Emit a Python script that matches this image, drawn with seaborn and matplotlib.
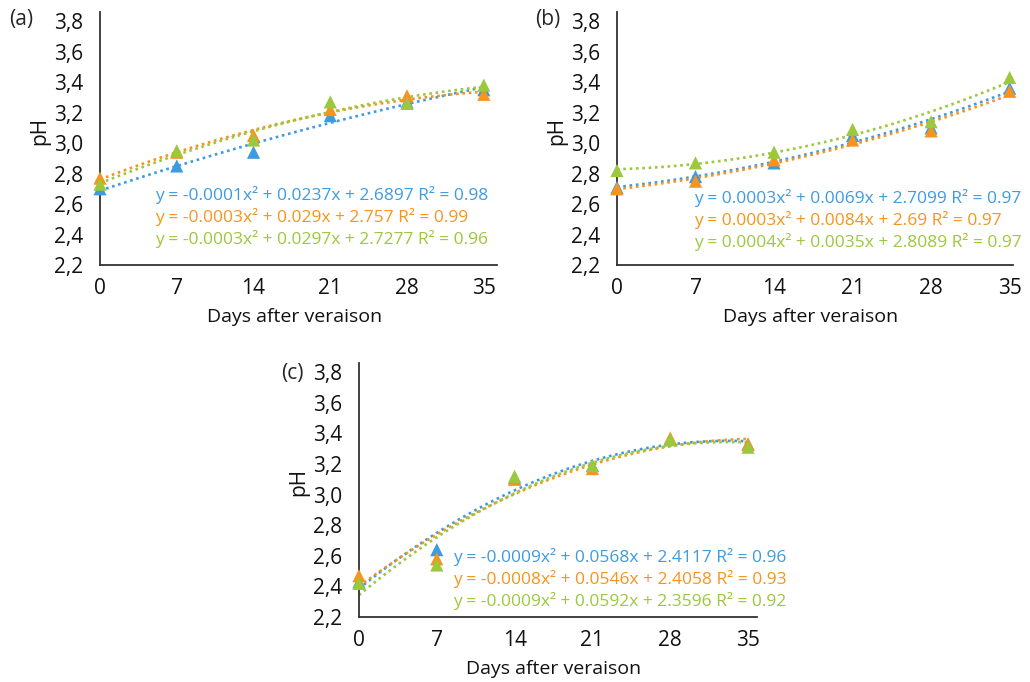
import numpy as np
import pandas as pd
import matplotlib
matplotlib.use("Agg")
import matplotlib.pyplot as plt
import seaborn as sns

# days after veraison
days = [0, 7, 14, 21, 28, 35]

# pH readings per panel, three series each (blue, orange, green)
a_blue = [2.70, 2.85, 2.94, 3.18, 3.27, 3.35]
a_orange = [2.77, 2.94, 3.05, 3.22, 3.31, 3.32]
a_green = [2.73, 2.95, 3.02, 3.27, 3.26, 3.38]

b_blue = [2.71, 2.78, 2.87, 3.05, 3.10, 3.36]
b_orange = [2.70, 2.75, 2.89, 3.02, 3.08, 3.34]
b_green = [2.82, 2.87, 2.94, 3.09, 3.14, 3.43]

c_blue = [2.43, 2.64, 3.11, 3.19, 3.36, 3.33]
c_orange = [2.47, 2.58, 3.10, 3.17, 3.37, 3.33]
c_green = [2.42, 2.54, 3.12, 3.19, 3.36, 3.31]

# trendline equations as printed on the chart
a_eqs = ["y = -0.0001x² + 0.0237x + 2.6897 R² = 0.98",
         "y = -0.0003x² + 0.029x + 2.757 R² = 0.99",
         "y = -0.0003x² + 0.0297x + 2.7277 R² = 0.96"]
b_eqs = ["y = 0.0003x² + 0.0069x + 2.7099 R² = 0.97",
         "y = 0.0003x² + 0.0084x + 2.69 R² = 0.97",
         "y = 0.0004x² + 0.0035x + 2.8089 R² = 0.97"]
c_eqs = ["y = -0.0009x² + 0.0568x + 2.4117 R² = 0.96",
         "y = -0.0008x² + 0.0546x + 2.4058 R² = 0.93",
         "y = -0.0009x² + 0.0592x + 2.3596 R² = 0.92"]

y_ticks = [2.2, 2.4, 2.6, 2.8, 3.0, 3.2, 3.4, 3.6, 3.8]
series_names = ["blue", "orange", "green"]
colors = ["#3d9be0", "#f7941d", "#9bc83c"]

sns.set_theme(style="white")
plt.rcParams["font.family"] = ["Open Sans", "DejaVu Sans"]


def make_df(blue, orange, green):
    rows = []
    for name, vals in zip(series_names, [blue, orange, green]):
        for d, v in zip(days, vals):
            rows.append({"day": d, "pH": v, "series": name})
    return pd.DataFrame(rows)


def draw_panel(ax, df, eqs, xmax, eq_x, eq_y):
    # quadratic trendlines first, markers on top
    for name, col in zip(series_names, colors):
        sub = df[df["series"] == name]
        sns.regplot(data=sub, x="day", y="pH", order=2, ci=None, scatter=False,
                    color=col, ax=ax,
                    line_kws=dict(linestyle=(0, (1, 1.4)), linewidth=1.9))
    sns.scatterplot(data=df, x="day", y="pH", hue="series", palette=colors,
                    marker="^", s=90, linewidth=0, ax=ax, legend=False,
                    clip_on=False, zorder=5)

    ax.set_xlim(0, xmax)
    ax.set_ylim(2.2, 3.86)
    ax.set_xticks(days)
    ax.set_xticklabels([str(d) for d in days])
    ax.set_yticks(y_ticks)
    ax.set_yticklabels([f"{v:.1f}".replace(".", ",") for v in y_ticks])
    ax.tick_params(axis="both", length=0, labelsize=15, colors="#111111")
    ax.tick_params(axis="x", pad=9)
    ax.tick_params(axis="y", pad=12)
    for side in ["top", "right"]:
        ax.spines[side].set_visible(False)
    for side in ["left", "bottom"]:
        ax.spines[side].set_color("#333333")
        ax.spines[side].set_linewidth(1.3)

    ax.set_xlabel("Days after veraison", fontsize=14, color="#111111")
    ax.set_ylabel("pH", fontsize=15, color="#111111")
    ax.xaxis.set_label_coords(0.49, -0.17)
    ax.yaxis.set_label_coords(-0.125, 0.53)

    for i, (txt, col) in enumerate(zip(eqs, colors)):
        ax.text(eq_x, eq_y - i * 0.087, txt, color=col, fontsize=12.5,
                transform=ax.transAxes, va="center", ha="left")


fig = plt.figure(figsize=(10.3, 6.82), dpi=100)
ax_a = fig.add_axes([0.0971, 0.6114, 0.3854, 0.371])
ax_b = fig.add_axes([0.599, 0.6114, 0.3845, 0.371])
ax_c = fig.add_axes([0.3485, 0.0953, 0.3864, 0.3724])

draw_panel(ax_a, make_df(a_blue, a_orange, a_green), a_eqs, 36.2, 0.139, 0.277)
draw_panel(ax_b, make_df(b_blue, b_orange, b_green), b_eqs, 35.3, 0.194, 0.265)
draw_panel(ax_c, make_df(c_blue, c_orange, c_green), c_eqs, 35.8, 0.236, 0.236)

fig.text(0.021, 0.972, "(a)", fontsize=15, va="center", ha="center")
fig.text(0.532, 0.972, "(b)", fontsize=15, va="center", ha="center")
fig.text(0.284, 0.453, "(c)", fontsize=15, va="center", ha="center")

fig.savefig("out.png", dpi=100)
